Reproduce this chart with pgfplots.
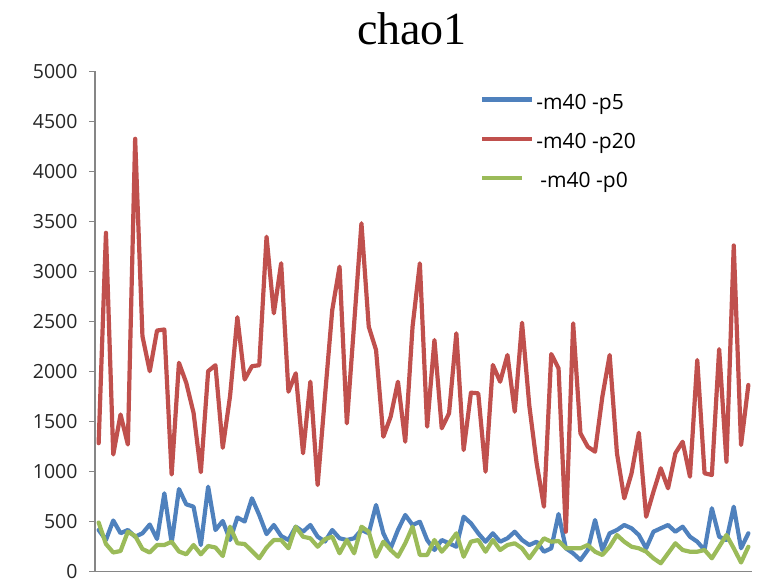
\documentclass[border=0pt]{standalone}
\usepackage{fontspec}
\setmainfont{Liberation Serif}
\newfontfamily\labelfont{Open Sans}
\usepackage{pgfplots}
\usepackage{pgfplotstable}
\pgfplotsset{compat=1.18}

\definecolor{serblue}{HTML}{4F81BD}
\definecolor{serred}{HTML}{C0504D}
\definecolor{sergreen}{HTML}{9BBB59}
\definecolor{axisgray}{HTML}{868686}

% legend sample lines: full length, and a shorter one for the last entry
\pgfplotsset{
  longlegend/.style={legend image code/.code={\draw[##1, line cap=butt] (0pt,0.3em) -- (50pt,0.3em);}},
  shortlegend/.style={legend image code/.code={\draw[##1, line cap=butt] (0pt,0.3em) -- (40pt,0.3em); \path (50pt,0.3em);}},
}

% chao1 estimates per sample for three parameter settings
\pgfplotstableread{
idx p5 p20 p0
0 415 1283 490
1 315 3387 275
2 510 1170 190
3 383 1570 205
4 415 1270 398
5 348 4327 355
6 382 2353 225
7 470 2003 190
8 325 2410 265
9 782 2420 265
10 285 970 298
11 825 2087 200
12 672 1887 172
13 648 1587 265
14 265 993 172
15 848 2003 255
16 415 2063 240
17 505 1237 155
18 315 1753 448
19 540 2543 282
20 500 1920 275
21 732 2053 205
22 565 2063 132
23 374 3348 240
24 465 2582 315
25 355 3082 315
26 315 1798 232
27 448 1982 448
28 398 1182 348
29 465 1898 332
30 348 865 248
31 300 1750 324
32 415 2615 348
33 332 3048 182
34 315 1482 315
35 332 2480 182
36 415 3482 448
37 382 2448 398
38 665 2215 148
39 382 1348 298
40 232 1548 215
41 415 1898 148
42 565 1298 282
43 465 2448 448
44 498 3082 165
45 315 1448 165
46 215 2315 315
47 315 1432 198
48 282 1582 282
49 248 2382 382
50 548 1215 148
51 482 1788 298
52 382 1782 315
53 298 998 198
54 382 2065 315
55 298 1898 215
56 332 2165 265
57 398 1598 282
58 315 2488 232
59 265 1655 132
60 298 1082 232
61 198 648 332
62 232 2175 298
63 575 2032 305
64 232 398 232
65 182 2482 232
66 115 1382 232
67 215 1248 265
68 515 1198 198
69 215 1748 165
70 382 2165 248
71 415 1182 365
72 465 732 298
73 432 982 248
74 365 1388 232
75 232 548 198
76 398 798 132
77 432 1032 82
78 465 832 182
79 398 1182 282
80 448 1298 215
81 348 948 198
82 298 2115 198
83 215 982 215
84 632 965 132
85 348 2223 248
86 315 1098 365
87 648 3260 232
88 232 1265 90
89 382 1865 248
}\chaodata

\begin{document}
\begin{tikzpicture}[x=1pt,y=1pt]
\path[use as bounding box] (0,0) rectangle (765,584);
\node[anchor=base, font=\fontsize{46}{50}\selectfont] at (412,539) {chao1};
\begin{axis}[
  at={(95pt,12.5pt)}, anchor=south west,
  scale only axis, width=657pt, height=500pt,
  xmin=-0.5, xmax=89.5, ymin=0, ymax=5000,
  axis x line*=bottom, axis y line*=left,
  axis line style={axisgray, line width=1.2pt},
  xtick=\empty,
  ytick={0,500,...,5000},
  tick align=outside, major tick length=6pt,
  ytick style={axisgray, line width=1pt},
  /pgf/number format/assume math mode=true,
  /pgf/number format/1000 sep={},
  yticklabel style={font=\labelfont\fontsize{19.5}{22}\selectfont, text=black!85, xshift=-8pt},
  every axis plot/.append style={line width=4.2pt, line join=round, line cap=round, mark=none},
  longlegend,
  legend cell align=left,
  legend style={draw=none, fill=none, at={(0.586,0.959)}, anchor=north west,
    font=\labelfont\fontsize{21}{24}\selectfont, row sep=18.5pt, inner sep=0pt},
]
\addplot[serblue] table[x=idx, y=p5] {\chaodata};
\addlegendentry{-m40 -p5}
\addplot[serred] table[x=idx, y=p20] {\chaodata};
\addlegendentry{-m40 -p20}
\addplot[sergreen, shortlegend] table[x=idx, y=p0] {\chaodata};
\addlegendentry{\hspace{4pt}-m40 -p0}
\end{axis}
\end{tikzpicture}
\end{document}
